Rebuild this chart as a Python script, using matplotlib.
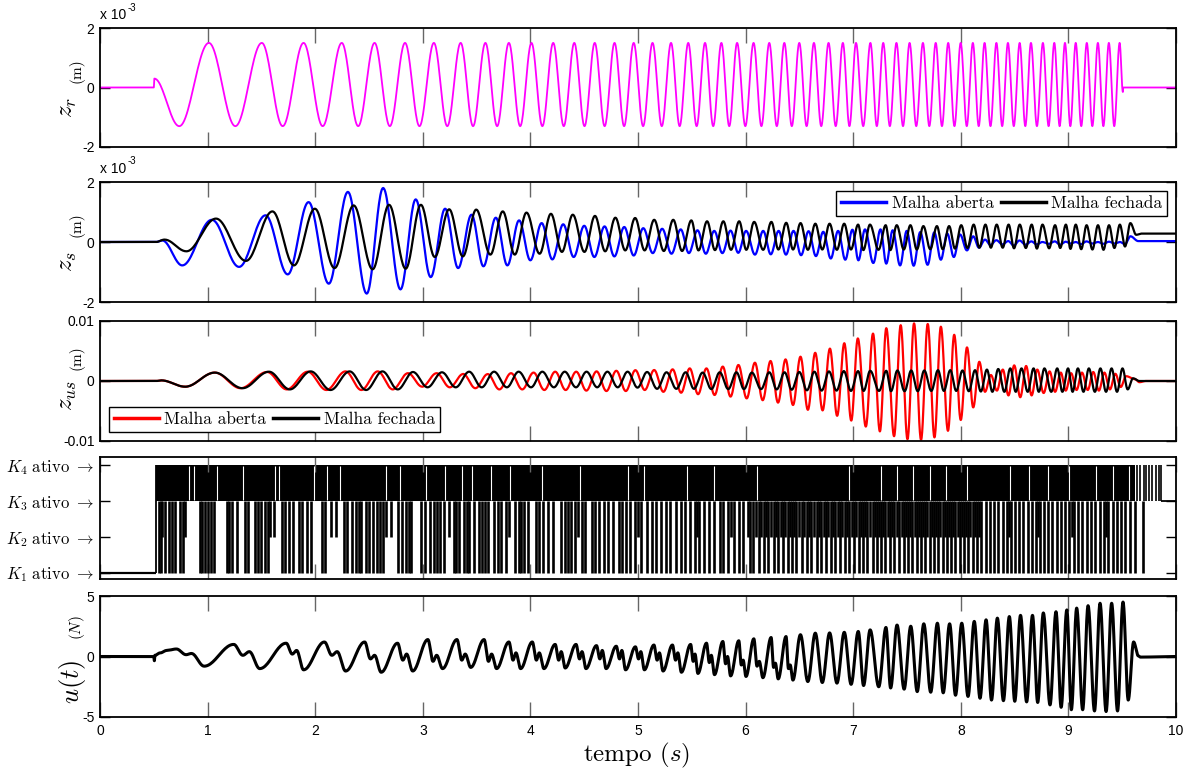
import numpy as np
import matplotlib
matplotlib.use('Agg')
import matplotlib.pyplot as plt

plt.rcParams['mathtext.fontset'] = 'cm'
plt.rcParams['axes.unicode_minus'] = False
TICK_FONT = ['Liberation Sans Narrow', 'Liberation Sans', 'DejaVu Sans']
SERIF = 'cmr10'

# ---- reference chirp z_r: times of its peaks (s)
zr_peak_t = [1.012, 1.504, 1.892, 2.247, 2.552, 2.835, 3.103, 3.352, 3.582, 3.800,
             4.010, 4.212, 4.408, 4.598, 4.782, 4.960, 5.135, 5.307, 5.467, 5.623,
             5.775, 5.921, 6.074, 6.220, 6.360, 6.499, 6.635, 6.771, 6.904, 7.026,
             7.160, 7.279, 7.402, 7.524, 7.648, 7.767, 7.883, 7.999, 8.112, 8.221,
             8.331, 8.438, 8.547, 8.652, 8.763, 8.869, 8.968, 9.068, 9.171, 9.274,
             9.376, 9.476]
zr_first_trough_t = 0.737
zr_peak = 1.5      # x 1e-3 m
zr_trough = -1.3
zr_head = ([0.0, 0.5, 0.505], [0.0, 0.0, 0.3])
zr_tail = ([9.506, 9.51, 10.0], [-0.15, 0.0, 0.0])

# ---- z_s (x 1e-3 m), one value per cycle of the excitation
zs_open_peak = [0.74, 0.89, 1.33, 1.67, 1.80, 1.42, 1.11, 0.91, 0.81, 0.72,
                0.63, 0.59, 0.54, 0.52, 0.50, 0.46, 0.44, 0.42, 0.39, 0.37,
                0.38, 0.37, 0.37, 0.37, 0.37, 0.36, 0.34, 0.37, 0.41, 0.42,
                0.42, 0.39, 0.37, 0.33, 0.32, 0.28, 0.25, 0.19, 0.08, 0.06,
                0.03, 0.05, 0.02, 0.00, 0.02, 0.01, 0.00, 0.02, 0.00, 0.01,
                0.00, 0.19]
zs_open_trough = [-0.78, -0.83, -1.08, -1.39, -1.72, -1.58, -1.17, -0.87, -0.81, -0.78,
                  -0.61, -0.58, -0.50, -0.50, -0.48, -0.45, -0.37, -0.39, -0.37, -0.39,
                  -0.37, -0.36, -0.42, -0.41, -0.42, -0.44, -0.47, -0.55, -0.59, -0.61,
                  -0.70, -0.72, -0.78, -0.79, -0.76, -0.59, -0.50, -0.28, -0.19, -0.10,
                  -0.08, -0.12, -0.09, -0.08, -0.06, -0.09, -0.05, -0.07, -0.05, -0.06,
                  -0.05, -0.07]
zs_open_lag = ([0, 1, 2, 3, 4, 5, 6, 10, 15, 25, 30, 34, 37, 51],
               [0.05, 0.07, 0.12, 0.16, 0.26, 0.35, 0.39, 0.45, 0.5, 0.62, 0.7, 0.85, 1.0, 1.0])
zs_open_head = ([0.0, 0.52, 0.58], [0.0, 0.0, 0.05])
zs_open_tail = ([9.65, 10.0], [0.03, 0.03])

zs_closed_peak = [0.78, 1.02, 1.11, 1.22, 1.24, 1.24, 1.09, 1.08, 1.02, 0.98,
                  0.94, 0.91, 0.87, 0.81, 0.80, 0.74, 0.74, 0.72, 0.69, 0.69,
                  0.69, 0.67, 0.67, 0.64, 0.63, 0.61, 0.61, 0.61, 0.58, 0.58,
                  0.56, 0.56, 0.56, 0.53, 0.53, 0.53, 0.56, 0.58, 0.58, 0.58,
                  0.58, 0.58, 0.58, 0.58, 0.56, 0.58, 0.58, 0.56, 0.56, 0.56,
                  0.58, 0.63]
zs_closed_trough = [-0.31, -0.63, -0.78, -0.87, -0.91, -0.89, -0.50, -0.48, -0.42, -0.42,
                    -0.39, -0.33, -0.33, -0.31, -0.28, -0.28, -0.30, -0.30, -0.28, -0.27,
                    -0.26, -0.26, -0.26, -0.25, -0.25, -0.26, -0.25, -0.26, -0.25, -0.27,
                    -0.26, -0.27, -0.25, -0.25, -0.24, -0.24, -0.22, -0.20, -0.19, -0.19,
                    -0.19, -0.21, -0.20, -0.22, -0.21, -0.20, -0.23, -0.24, -0.25, -0.26,
                    -0.20, -0.15]
zs_closed_lag = ([0, 1, 2, 3, 4, 5, 6, 7, 8, 9, 10, 11, 12, 14, 16, 51],
                 [0.12, 0.2, 0.27, 0.31, 0.44, 0.52, 0.53, 0.58, 0.7, 0.75, 0.86, 0.9, 0.98, 1.04, 1.1, 1.0])
zs_closed_head = ([0.0, 0.52, 0.60], [0.0, 0.0, 0.08])
zs_closed_tail = ([9.63, 9.68, 10.0], [0.24, 0.28, 0.28])

# ---- z_us (x 1e-3 m)
zus_open_peak = [1.40, 1.50, 1.55, 1.60, 1.60, 1.30, 1.30, 1.17, 1.15, 1.30,
                 1.40, 1.55, 1.55, 1.60, 1.70, 1.80, 1.83, 1.94, 2.10, 2.10,
                 2.40, 2.67, 3.05, 3.33, 3.60, 4.05, 4.70, 5.40, 6.30, 7.10,
                 7.90, 8.80, 9.30, 9.60, 9.50, 9.05, 7.70, 5.60, 3.20, 1.00,
                 1.90, 2.60, 2.50, 1.90, 1.60, 1.40, 1.30, 1.40, 1.50, 1.40,
                 1.20, 0.80]
zus_open_trough = [-0.95, -1.20, -1.40, -1.50, -1.50, -1.40, -0.95, -1.05, -1.20, -1.40,
                   -1.40, -1.50, -1.50, -1.60, -1.67, -1.67, -1.50, -1.80, -1.95, -2.20,
                   -2.33, -2.60, -2.90, -3.20, -3.60, -4.00, -4.80, -4.90, -5.80, -6.60,
                   -7.60, -8.40, -9.20, -9.70, -9.80, -9.40, -8.30, -6.50, -4.40, -1.80,
                   -1.60, -2.40, -2.70, -2.40, -2.00, -1.80, -1.60, -1.50, -1.50, -1.60,
                   -1.40, -1.00]
zus_open_lag = ([0, 25, 28, 30, 31, 32, 34, 35, 36, 38, 51],
                [0.1, 0.08, 0.1, 0.18, 0.24, 0.32, 0.36, 0.4, 0.48, 0.53, 0.6])
zus_open_head = ([0.0, 0.52, 0.57], [0.0, 0.0, 0.1])
zus_open_tail = ([9.62, 9.66, 9.72, 10.0], [0.3, -0.2, 0.0, 0.0])

zus_closed_peak = [1.40, 1.55, 1.60, 1.60, 1.60, 1.50, 1.45, 1.55, 1.55, 1.55,
                   1.55, 1.55, 1.55, 1.55, 1.55, 1.50, 1.45, 1.45, 1.40, 1.45,
                   1.45, 1.40, 1.45, 1.45, 1.50, 1.55, 1.60, 1.65, 1.65, 1.70,
                   1.70, 1.75, 1.75, 1.75, 1.80, 1.80, 1.75, 1.80, 1.90, 2.00,
                   2.10, 2.10, 2.10, 2.10, 2.10, 2.10, 2.10, 2.10, 2.10, 2.10,
                   2.10, 0.45]
zus_closed_trough = [-0.95, -1.20, -1.40, -1.50, -1.50, -1.40, -1.05, -1.05, -1.05, -1.05,
                     -1.05, -1.05, -1.05, -1.05, -1.05, -1.10, -1.30, -1.30, -1.30, -1.35,
                     -1.35, -1.35, -1.35, -1.40, -1.45, -1.55, -1.60, -1.60, -1.65, -1.65,
                     -1.65, -1.70, -1.70, -1.70, -1.65, -1.65, -1.65, -1.70, -1.75, -1.80,
                     -1.80, -1.80, -1.80, -1.80, -1.80, -1.80, -1.80, -1.80, -1.80, -1.80,
                     -1.80, -1.40]
zus_closed_lag = ([0, 4, 6, 8, 10, 12, 15, 20, 30, 51],
                  [0.1, 0.24, 0.28, 0.35, 0.48, 0.58, 0.7, 0.92, 1.1, 1.25])
zus_closed_head = ([0.0, 0.52, 0.57], [0.0, 0.0, 0.1])
zus_closed_tail = ([9.66, 10.0], [0.0, 0.0])

# ---- control force u(t) (N)
u_peak = [1.00, 1.10, 1.20, 1.20, 1.10, 1.40, 1.40, 1.40, 1.20, 1.20,
          1.00, 1.00, 0.90, 0.85, 0.80, 0.95, 0.95, 1.00, 1.10, 1.24,
          1.30, 1.46, 1.57, 1.65, 1.80, 1.93, 1.95, 2.00, 2.07, 2.20,
          2.40, 2.60, 2.50, 2.70, 2.75, 2.70, 2.75, 2.90, 3.03, 3.17,
          3.30, 3.40, 3.40, 3.60, 3.70, 3.85, 4.00, 4.20, 4.40, 4.40,
          4.50, 1.20]
u_trough = [-0.80, -1.00, -1.10, -1.20, -1.30, -1.20, -1.00, -0.90, -1.00, -1.00,
            -1.00, -0.95, -1.00, -1.00, -1.10, -1.10, -1.20, -1.30, -1.40, -1.50,
            -1.60, -1.65, -1.75, -1.85, -1.95, -2.07, -2.15, -2.20, -2.30, -2.40,
            -2.50, -2.60, -2.70, -2.90, -2.95, -3.00, -3.20, -3.30, -3.45, -3.60,
            -3.65, -3.70, -3.75, -3.80, -4.00, -4.20, -4.40, -4.40, -4.50, -4.55,
            -4.50, -3.60]
# small secondary wiggle after each peak in the first seconds (nan = none)
nan = np.nan
u_dip = [0.10, 0.20, 0.10, -0.20, -0.30, -0.40, -0.30, -0.40, -0.30, -0.30,
         -0.30, -0.20, -0.20, -0.20, -0.20, -0.30, -0.30, -0.40, -0.50, -0.60,
         -0.70, -0.80, -0.90, -1.00, nan, nan, nan, nan, nan, nan,
         nan, nan, nan, nan, nan, nan, nan, nan, nan, nan,
         nan, nan, nan, nan, nan, nan, nan, nan, nan, nan,
         nan, nan]
u_bump = [0.40, 0.50, 0.40, 0.10, 0.20, 0.10, 0.20, 0.20, 0.30, 0.30,
          0.40, 0.40, 0.50, 0.50, 0.40, 0.30, 0.30, 0.20, 0.10, 0.00,
          -0.30, -0.40, -0.55, -0.70, nan, nan, nan, nan, nan, nan,
          nan, nan, nan, nan, nan, nan, nan, nan, nan, nan,
          nan, nan, nan, nan, nan, nan, nan, nan, nan, nan,
          nan, nan]
u_lag = ([0, 2, 4, 6, 8, 10, 46, 50, 51],
         [0.42, 0.5, 0.7, 0.8, 0.95, 1.05, 1.1, 1.29, 1.3])
u_head = ([0.0, 0.50, 0.505, 0.51, 0.56, 0.62, 0.71, 0.80, 0.85],
          [0.0, 0.0, -0.35, 0.1, 0.3, 0.5, 0.62, 0.15, 0.25])
u_tail = ([9.65, 9.67, 10.0], [0.05, -0.05, 0.0])

# ---- active gain (switching) panel
k_on = 0.525
k_band_end = 9.62
k_off = 9.86
k1_drops = [0.55, 0.57, 0.60, 0.64, 0.67, 0.70, 0.74, 0.77, 0.93, 0.95, 0.98, 1.00, 1.03, 1.06,
            1.18, 1.20, 1.23, 1.27, 1.35, 1.38, 1.44, 1.47, 1.50, 1.53, 1.56, 1.69, 1.72, 1.76,
            1.79, 1.85, 1.88, 1.92, 1.96, 2.06, 2.09, 2.27, 2.30, 2.34, 2.38, 2.41, 2.43, 2.47,
            2.50, 2.54, 2.57, 2.60, 2.63, 2.77, 2.81, 2.84, 2.87, 2.89, 2.98, 3.02, 3.07, 3.10,
            3.13, 3.16, 3.20, 3.29, 3.31, 3.34, 3.38, 3.41, 3.43, 3.48, 3.52, 3.55, 3.58, 3.61,
            3.66, 3.70, 3.73, 3.77, 3.86, 3.89, 3.91, 3.94, 3.98, 4.05, 4.08, 4.12, 4.16, 4.21,
            4.28, 4.32, 4.35, 4.38, 4.41, 4.48, 4.51, 4.57, 4.60, 4.64,
            4.68, 4.72, 4.77, 4.82, 4.85, 4.89, 4.93, 4.97, 5.03, 5.08, 5.13, 5.17, 5.21, 5.26,
            5.30, 5.35, 5.40, 5.44, 5.48, 5.53, 5.57, 5.61, 5.66, 5.71, 5.76, 5.79, 5.84, 5.89,
            5.94, 5.98, 6.04, 6.07, 6.12, 6.17, 6.21, 6.26, 6.30, 6.35, 6.39, 6.43, 6.47, 6.52,
            6.57, 6.61, 6.66, 6.70, 6.75, 6.79, 6.83, 6.88, 6.92, 6.96, 7.01, 7.05, 7.09, 7.13,
            7.18, 7.22, 7.26, 7.30, 7.34, 7.38, 7.43, 7.47, 7.51, 7.55, 7.59, 7.63, 7.67, 7.71,
            7.75, 7.79, 7.83, 7.87, 7.91, 7.95, 7.99, 8.03, 8.07, 8.11, 8.15, 8.19, 8.23, 8.27,
            8.31, 8.35, 8.39, 8.43, 8.47, 8.50, 8.54, 8.58, 8.62, 8.66, 8.70, 8.74, 8.77, 8.81,
            8.85, 8.89, 8.93, 8.97, 9.01, 9.05, 9.09, 9.13, 9.17, 9.21, 9.25, 9.29, 9.33, 9.37,
            9.41, 9.45, 9.49, 9.53, 9.57, 9.62, 9.69]
k2_drops = [0.58, 0.79, 1.58, 1.62, 2.15, 2.19, 2.66, 2.70, 3.24, 3.80, 4.44, 5.00, 5.55, 5.86,
            6.02, 6.095, 6.145, 6.19, 6.235, 6.28, 6.325, 6.37, 6.41, 6.45, 6.495, 6.545,
            6.59, 6.635, 6.68, 6.725, 6.77, 6.81, 6.855, 6.90, 6.94, 6.985, 7.03, 7.07,
            7.11, 7.155, 7.20, 7.24, 7.28, 7.32, 7.36, 7.405, 7.45, 7.49, 7.53, 7.57,
            7.61, 7.65, 7.69, 7.73, 7.77, 7.81, 7.85, 7.89, 7.93, 7.97, 8.01, 8.05,
            8.09, 8.13, 8.17, 8.45, 8.72, 9.03, 9.35]
band_slits = [0.83, 0.87, 1.09, 1.33, 1.63, 1.66, 1.99, 2.11, 2.23, 2.66, 2.79, 3.03, 3.21,
              3.36, 3.46, 3.63, 3.81, 4.11, 4.46, 4.91, 5.06, 5.46, 5.71, 6.11, 6.96, 7.26,
              7.41, 7.56, 7.71, 7.86, 8.06, 8.46, 8.63, 8.81, 9.01, 9.26, 9.41, 9.56]
band_tail_lines = [9.64, 9.67, 9.70, 9.72, 9.75, 9.78, 9.81, 9.84]
k_labels = [r'$K_1\ \mathrm{ativo}\ \rightarrow$', r'$K_2\ \mathrm{ativo}\ \rightarrow$',
            r'$K_3\ \mathrm{ativo}\ \rightarrow$', r'$K_4\ \mathrm{ativo}\ \rightarrow$']


def smooth(et, ey, n=24):
    # half-cosine between consecutive extrema
    xs, ys = [], []
    for i in range(len(et) - 1):
        s = np.linspace(0, 1, n, endpoint=False)
        xs.append(et[i] + (et[i + 1] - et[i]) * s)
        ys.append(ey[i] + (ey[i + 1] - ey[i]) * (1 - np.cos(np.pi * s)) / 2)
    xs.append([et[-1]])
    ys.append([ey[-1]])
    return np.concatenate(xs), np.concatenate(ys)


P = np.array(zr_peak_t)
T = np.concatenate([[zr_first_trough_t], (P[:-1] + P[1:]) / 2])
PER = 2 * (P - T)


def trace(head, peaks, troughs, lag_knots, tail, dips=None, bumps=None):
    lag = np.interp(np.arange(len(P)), lag_knots[0], lag_knots[1])
    tt_tr = T + lag * PER
    tt_pk = P + lag * PER
    et, ey = list(head[0]), list(head[1])
    for k in range(len(P)):
        et += [tt_tr[k], tt_pk[k]]
        ey += [troughs[k], peaks[k]]
        if dips is not None and k + 1 < len(P) and not np.isnan(dips[k]):
            gap = tt_tr[k + 1] - tt_pk[k]
            et += [tt_pk[k] + 0.35 * gap, tt_pk[k] + 0.6 * gap]
            ey += [dips[k], bumps[k]]
    et += list(tail[0])
    ey += list(tail[1])
    return smooth(np.array(et), np.array(ey))


n = len(P)
zr = trace(zr_head, [zr_peak] * n, [zr_trough] * n, ([0, n - 1], [0, 0]), zr_tail)
zs_o = trace(zs_open_head, zs_open_peak, zs_open_trough, zs_open_lag, zs_open_tail)
zs_c = trace(zs_closed_head, zs_closed_peak, zs_closed_trough, zs_closed_lag, zs_closed_tail)
zus_o = trace(zus_open_head, zus_open_peak, zus_open_trough, zus_open_lag, zus_open_tail)
zus_c = trace(zus_closed_head, zus_closed_peak, zus_closed_trough, zus_closed_lag, zus_closed_tail)
u = trace(u_head, u_peak, u_trough, u_lag, u_tail, u_dip, u_bump)

fig = plt.figure(figsize=(12.02, 7.76), dpi=100)
L, W = 100 / 1202, 1076 / 1202
boxes = [(28, 147), (182, 302), (321, 441), (457, 579), (596, 717)]
axes = []
for top, bot in boxes:
    ax = fig.add_axes([L, 1 - bot / 776, W, (bot - top) / 776])
    ax.set_xlim(0, 10)
    ax.set_xticks(range(11))
    ax.tick_params(axis='x', direction='in', top=True, length=11, width=1, color='0.4')
    ax.tick_params(axis='y', direction='in', right=True, length=7, width=1, color='k')
    for s in ax.spines.values():
        s.set_linewidth(1.3)
    ax.set_xticklabels([])
    axes.append(ax)
ax1, ax2, ax3, ax4, ax5 = axes


def style_ticks(ax, ticks, labels):
    ax.set_yticks(ticks)
    ax.set_yticklabels(labels, fontfamily=TICK_FONT, fontsize=10)
    ax.tick_params(axis='y', pad=4)


def ylab(top, bot, main, unit, main_size=18, dx=(67, 76), off=(20, -17)):
    mid = (top + bot) / 2
    fig.text(dx[0] / 1202, 1 - (mid + off[0]) / 776, main, rotation=90,
             ha='center', va='center', fontsize=main_size)
    fig.text(dx[1] / 1202, 1 - (mid + off[1]) / 776, unit, rotation=90,
             ha='center', va='center', fontsize=11, fontfamily=SERIF)


def sci(ax):
    ax.text(0, 1.05, 'x 10', transform=ax.transAxes, fontfamily=TICK_FONT,
            fontsize=10, ha='left', va='bottom')
    ax.text(0.026, 1.13, '-3', transform=ax.transAxes, fontfamily=TICK_FONT,
            fontsize=7, ha='left', va='bottom')


def legend(ax, loc):
    leg = ax.legend(loc=loc, ncol=2, prop={'family': SERIF, 'size': 12.5},
                    fancybox=False, framealpha=1, edgecolor='k', handlelength=2.6,
                    handletextpad=0.3, columnspacing=0.4, borderpad=0.3,
                    borderaxespad=0.5)
    leg.get_frame().set_linewidth(1.0)
    for h in leg.legend_handles:
        h.set_linewidth(2.5)


# panel 1: z_r
ax1.plot(*zr, color='#ff00ff', lw=1.3)
ax1.set_ylim(-2, 2)
style_ticks(ax1, [-2, 0, 2], ['-2', '0', '2'])
sci(ax1)
ylab(28, 147, r'$z_r$', '(m)')

# panel 2: z_s
ax2.plot(*zs_o, color='#0000ff', lw=1.6, label='Malha aberta')
ax2.plot(*zs_c, color='k', lw=1.6, label='Malha fechada')
ax2.set_ylim(-2, 2)
style_ticks(ax2, [-2, 0, 2], ['-2', '0', '2'])
sci(ax2)
ylab(182, 302, r'$z_s$', '(m)')
legend(ax2, 'upper right')

# panel 3: z_us
ax3.plot(*zus_o, color='#ff0000', lw=1.6, label='Malha aberta')
ax3.plot(*zus_c, color='k', lw=1.6, label='Malha fechada')
ax3.set_ylim(-10, 10)
style_ticks(ax3, [-10, 0, 10], ['-0.01', '0', '0.01'])
ylab(321, 441, r'$z_{us}$', '(m)', off=(15, -23))
legend(ax3, 'lower left')

# panel 4: active gain
ax4.hlines(1, 0, k_on, color='k', lw=1.6)
ax4.vlines(k_on, 1, 4, color='k', lw=1.3)
ax4.fill_between([k_on, k_band_end], 3, 4, color='k', lw=0)
ax4.vlines(band_tail_lines, 3, 4, color='k', lw=1.2)
ax4.vlines(band_slits, 3.03, 3.97, color='w', lw=0.8)
ax4.vlines(k1_drops, 1, 3, color='k', lw=1.9)
ax4.vlines(k2_drops, 2, 3, color='k', lw=1.9)
ax4.vlines(k_off, 3, 4, color='k', lw=1.2)
ax4.hlines(3, k_off, 10, color='k', lw=1.3)
ax4.set_ylim(0.82, 4.23)
ax4.set_yticks([1, 2, 3, 4])
ax4.set_yticklabels(k_labels, fontsize=12)
ax4.tick_params(axis='y', length=7, pad=4)

# panel 5: u(t)
ax5.plot(*u, color='k', lw=2.2)
ax5.set_ylim(-5, 5)
style_ticks(ax5, [-5, 0, 5], ['-5', '0', '5'])
ax5.set_xticklabels([str(i) for i in range(11)], fontfamily=TICK_FONT, fontsize=10)
ax5.tick_params(axis='x', pad=5)
ylab(596, 717, r'$u(t)$', r'$(N)$', main_size=19, dx=(73, 77), off=(25, -29))

fig.text(636 / 1202, 1 - 755 / 776, r'tempo $(s)$', fontfamily=SERIF, fontsize=18,
         ha='center', va='center')

fig.savefig('out.png', dpi=100)
